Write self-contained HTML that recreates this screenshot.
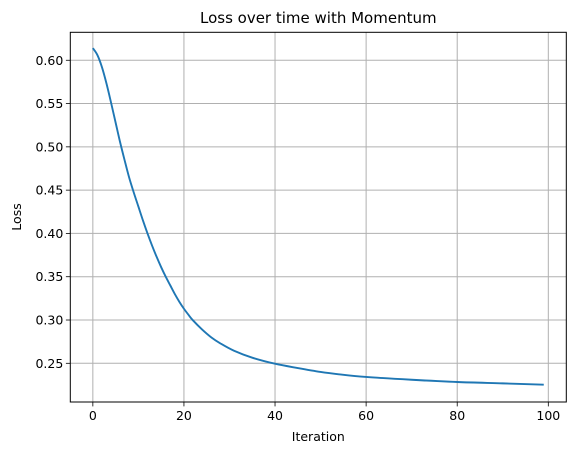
<!DOCTYPE html>
<html><head><meta charset="utf-8"><style>
body{margin:0;background:#fff}
text{font-family:"DejaVu Sans","Liberation Sans",sans-serif;fill:#000}
</style></head><body>
<svg id="chart" width="576" height="455" xmlns="http://www.w3.org/2000/svg">
<text x="318.3" y="23" font-size="15" text-anchor="middle">Loss over time with Momentum</text>
<g id="grid"></g><g id="ticks"></g>
<path id="line" fill="none" stroke="#1f77b4" stroke-width="1.9" stroke-linejoin="round"/>
<rect x="70.3" y="32.3" width="496" height="369.7" fill="none" stroke="#000" stroke-width="1"/>
<text x="318.3" y="441" font-size="12.5" text-anchor="middle">Iteration</text>
<text transform="translate(21,217) rotate(-90)" font-size="12.5" text-anchor="middle">Loss</text>
</svg>
<script>
const iterations=[0,1,2,3,4,5,6,7,8,9,10,11,12,13,14,15,16,17,18,19,20,21,22,24,26,28,31,35,40,45,50,54,60,70,80,90,99];
const losses=[0.614,0.606,0.592,0.573,0.551,0.528,0.505,0.484,0.464,0.447,0.431,0.415,0.400,0.386,0.373,0.361,0.350,0.340,0.330,0.321,0.313,0.306,0.2995,0.289,0.280,0.273,0.2645,0.2565,0.2495,0.2445,0.240,0.2373,0.2342,0.231,0.2284,0.2268,0.2253];
const xTicks=[0,20,40,60,80,100];
const yTicks=[0.25,0.30,0.35,0.40,0.45,0.50,0.55,0.60];
const L=70.3,R=566.3,T=32.3,B=402;
const xmin=-4.95,xmax=103.95,ymin=0.2053,ymax=0.6323;
const X=v=>L+(v-xmin)/(xmax-xmin)*(R-L);
const Y=v=>B-(v-ymin)/(ymax-ymin)*(B-T);
const NS="http://www.w3.org/2000/svg";
const grid=document.getElementById('grid'),ticks=document.getElementById('ticks');
function mk(tag,attrs,parent){const e=document.createElementNS(NS,tag);for(const k in attrs)e.setAttribute(k,attrs[k]);parent.appendChild(e);return e;}
xTicks.forEach(t=>{const x=X(t);
 const g=mk('line',{x1:x,x2:x,y1:T,y2:B,stroke:'#b0b0b0','stroke-width':1},grid);
 
 
 const tk=mk('line',{x1:x,x2:x,y1:B,y2:B+4.4,stroke:'#000','stroke-width':0.8},ticks);
 
 
 const tx=mk('text',{x:x,y:B+18,'font-size':12.5,'text-anchor':'middle'},ticks);tx.textContent=t;
 
 
});
yTicks.forEach(t=>{const y=Y(t);
 const g=mk('line',{x1:L,x2:R,y1:y,y2:y,stroke:'#b0b0b0','stroke-width':1},grid);
 
 
 const tk=mk('line',{x1:L-4.4,x2:L,y1:y,y2:y,stroke:'#000','stroke-width':0.8},ticks);
 
 
 const tx=mk('text',{x:L-7,y:y+4.5,'font-size':12.5,'text-anchor':'end'},ticks);tx.textContent=t.toFixed(2);
 
 
});
const P=iterations.map((v,i)=>[X(v),Y(losses[i])]);
let d='M'+P[0][0]+','+P[0][1];
for(let i=0;i<P.length-1;i++){const p0=P[Math.max(0,i-1)],p1=P[i],p2=P[i+1],p3=P[Math.min(P.length-1,i+2)];
 const c1=[p1[0]+(p2[0]-p0[0])/6,p1[1]+(p2[1]-p0[1])/6],c2=[p2[0]-(p3[0]-p1[0])/6,p2[1]-(p3[1]-p1[1])/6];
 d+=` C${c1[0]},${c1[1]} ${c2[0]},${c2[1]} ${p2[0]},${p2[1]}`;}
document.getElementById('line').setAttribute('d',d);
</script>
</body></html>
